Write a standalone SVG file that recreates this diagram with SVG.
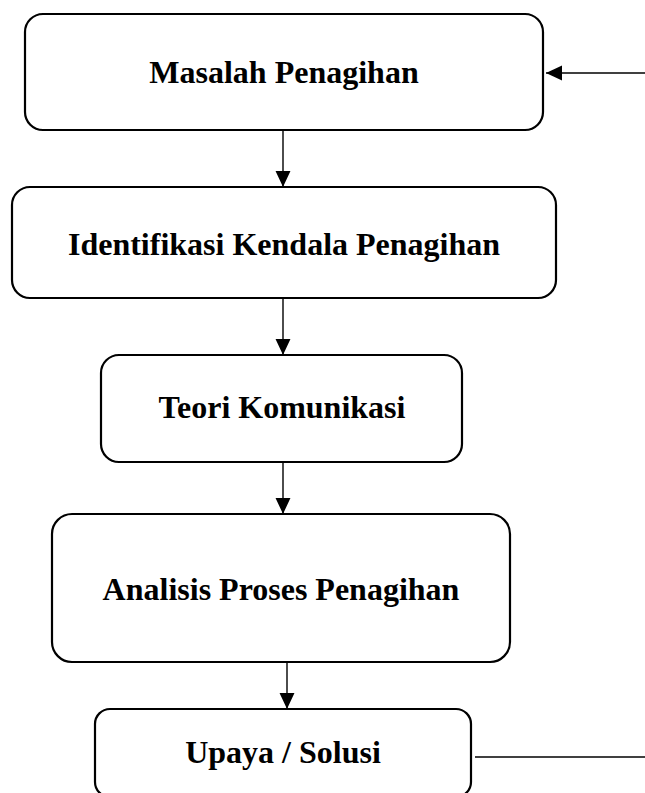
<svg xmlns="http://www.w3.org/2000/svg" width="645" height="793" viewBox="0 0 645 793">
<style>
.box{fill:#fff;stroke:#000;stroke-width:2.2}
.lbl{font-family:"Liberation Serif","Times New Roman",serif;font-weight:bold;font-size:32px;fill:#000;text-anchor:middle}
.con{stroke:#000;stroke-width:1.4;fill:none}
</style>
<defs>
<marker id="ah" markerUnits="userSpaceOnUse" markerWidth="16" markerHeight="16" viewBox="0 0 15 14" refX="15" refY="7" orient="auto">
<path d="M0,0 L15,7 L0,14 Z" fill="#000"/>
</marker>
</defs>
<rect width="645" height="793" fill="#fff"/>
<g id="connectors">
<line class="con" x1="283" y1="130" x2="283" y2="187" marker-end="url(#ah)"/>
<line class="con" x1="283" y1="298" x2="283" y2="355" marker-end="url(#ah)"/>
<line class="con" x1="283" y1="462" x2="283" y2="514" marker-end="url(#ah)"/>
<line class="con" x1="287" y1="662" x2="287" y2="709" marker-end="url(#ah)"/>
<line class="con" x1="645" y1="73" x2="546" y2="73" marker-end="url(#ah)"/>
<line class="con" x1="475" y1="757" x2="645" y2="757"/>
</g>
<g id="masalah">
<rect class="box" x="25" y="14" width="518" height="116" rx="18"/>
<text class="lbl" x="284" y="83">Masalah Penagihan</text>
</g>
<g id="identifikasi">
<rect class="box" x="12" y="187" width="544" height="111" rx="18"/>
<text class="lbl" x="284" y="255">Identifikasi Kendala Penagihan</text>
</g>
<g id="teori">
<rect class="box" x="101" y="355" width="361" height="107" rx="18"/>
<text class="lbl" x="282" y="418">Teori Komunikasi</text>
</g>
<g id="analisis">
<rect class="box" x="52" y="514" width="458" height="148" rx="20"/>
<text class="lbl" x="281" y="600">Analisis Proses Penagihan</text>
</g>
<g id="upaya">
<rect class="box" x="95" y="709" width="376" height="88" rx="15"/>
<text class="lbl" x="283" y="763">Upaya / Solusi</text>
</g>
</svg>
